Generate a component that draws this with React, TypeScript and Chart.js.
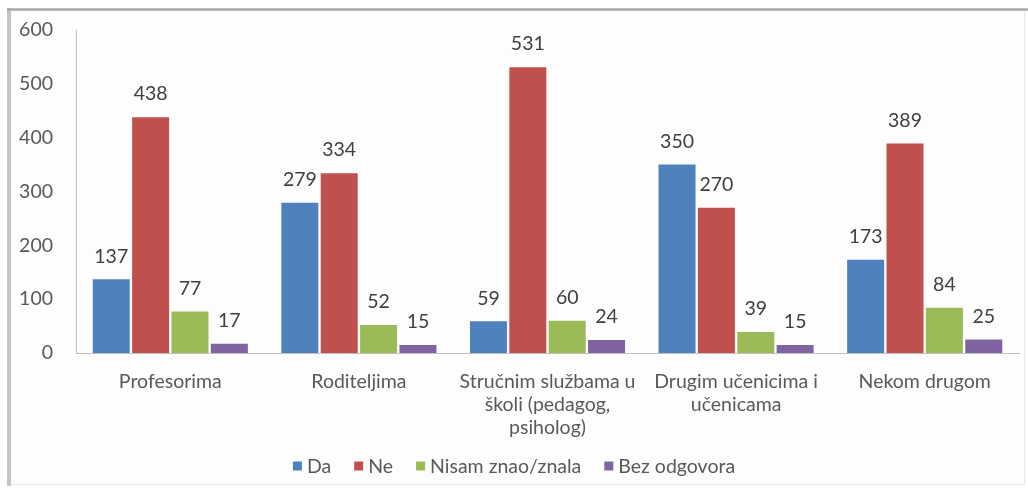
import React, { useEffect, useRef } from "react";
import { Chart, registerables } from "chart.js";

Chart.register(...registerables);

const categories: string[][] = [
  ["Profesorima"],
  ["Roditeljima"],
  ["Stručnim službama u", "školi (pedagog,", "psiholog)"],
  ["Drugim učenicima i", "učenicama"],
  ["Nekom drugom"],
];
const seriesNames = ["Da", "Ne", "Nisam znao/znala", "Bez odgovora"];
const daValues = [137, 279, 59, 350, 173];
const neValues = [438, 334, 531, 270, 389];
const nisamValues = [77, 52, 60, 39, 84];
const bezValues = [17, 15, 24, 15, 25];
const yTickValues = [0, 100, 200, 300, 400, 500, 600];
const seriesColors = ["#4F81BD", "#C0504D", "#9BBB59", "#8064A2"];

const FONT_FAMILY = "Lato, 'Open Sans', sans-serif";
const FONT_SIZE = 19.5;
const TEXT_COLOR = "#595959";

const framePlugin = {
  id: "frame",
  beforeDraw(chart: any) {
    const ctx = chart.ctx;
    ctx.save();
    ctx.fillStyle = "#ffffff";
    ctx.fillRect(0, 0, chart.width, chart.height);
    ctx.fillStyle = "#fdfdfd";
    ctx.fillRect(11, 10, 1013, 474);
    ctx.strokeStyle = "#e6e6e6";
    ctx.lineWidth = 1;
    ctx.beginPath();
    ctx.moveTo(1024.5, 9);
    ctx.lineTo(1024.5, 485);
    ctx.moveTo(9, 484.5);
    ctx.lineTo(1025, 484.5);
    ctx.stroke();
    ctx.strokeStyle = "#c4c4c4";
    ctx.lineWidth = 4;
    ctx.beginPath();
    ctx.moveTo(9, 8);
    ctx.lineTo(9, 486);
    ctx.stroke();
    ctx.strokeStyle = "#a9a9a9";
    ctx.lineWidth = 2.5;
    ctx.beginPath();
    ctx.moveTo(7, 9.5);
    ctx.lineTo(1028, 9.5);
    ctx.stroke();
    ctx.restore();
  },
};

const dataLabelPlugin = {
  id: "dataLabels",
  afterDatasetsDraw(chart: any) {
    const ctx = chart.ctx;
    ctx.save();
    ctx.font = `${FONT_SIZE}px ${FONT_FAMILY}`;
    ctx.fillStyle = "#404040";
    ctx.textAlign = "center";
    ctx.textBaseline = "middle";
    chart.data.datasets.forEach((ds: any, di: number) => {
      const meta = chart.getDatasetMeta(di);
      meta.data.forEach((el: any, i: number) => {
        ctx.fillText(String(ds.data[i]), el.x, el.y - 23);
      });
    });
    ctx.restore();
  },
};

const legendPlugin = {
  id: "customLegend",
  afterDraw(chart: any) {
    const ctx = chart.ctx;
    ctx.save();
    ctx.font = `${FONT_SIZE}px ${FONT_FAMILY}`;
    ctx.textBaseline = "middle";
    ctx.textAlign = "left";
    const box = 9;
    const boxGap = 5;
    const itemGap = 23;
    const widths = seriesNames.map((n) => box + boxGap + ctx.measureText(n).width);
    const total = widths.reduce((a, b) => a + b, 0) + itemGap * (widths.length - 1);
    let x = 514 - total / 2;
    const y = 466;
    seriesNames.forEach((name, i) => {
      ctx.fillStyle = seriesColors[i];
      ctx.fillRect(x, y - box / 2, box, box);
      ctx.fillStyle = TEXT_COLOR;
      ctx.fillText(name, x + box + boxGap, y + 1);
      x += widths[i] + itemGap;
    });
    ctx.restore();
  },
};

export default function App() {
  const canvasRef = useRef<HTMLCanvasElement | null>(null);

  useEffect(() => {
    if (!canvasRef.current) return;
    const seriesValues = [daValues, neValues, nisamValues, bezValues];
    const chart = new Chart(canvasRef.current, {
      type: "bar",
      data: {
        labels: categories,
        datasets: seriesNames.map((name, i) => ({
          label: name,
          data: seriesValues[i],
          backgroundColor: seriesColors[i],
          borderWidth: 0,
          barPercentage: 0.94,
          categoryPercentage: 0.835,
        })),
      },
      options: {
        responsive: false,
        animation: false,
        devicePixelRatio: 1,
        layout: { padding: { top: 30, right: 9, left: 0, bottom: 0 } },
        plugins: {
          legend: { display: false },
          tooltip: { enabled: false },
        },
        scales: {
          x: {
            grid: { display: false, drawTicks: false },
            border: { display: true, color: "#c0c0c0", width: 1 },
            ticks: {
              autoSkip: false,
              maxRotation: 0,
              minRotation: 0,
              padding: 17,
              color: TEXT_COLOR,
              font: { family: FONT_FAMILY, size: FONT_SIZE, lineHeight: 1.18 },
            },
            afterFit: (scale: any) => {
              scale.height = 141;
            },
          },
          y: {
            min: 0,
            max: 600,
            afterBuildTicks: (scale: any) => {
              scale.ticks = yTickValues.map((v) => ({ value: v }));
            },
            grid: { display: false, drawTicks: true, tickLength: 19 },
            border: { display: true, color: "#c0c0c0", width: 1 },
            ticks: {
              padding: 4,
              color: TEXT_COLOR,
              font: { family: FONT_FAMILY, size: FONT_SIZE },
            },
            afterFit: (scale: any) => {
              scale.width = 76;
            },
          },
        },
      },
      plugins: [framePlugin, dataLabelPlugin, legendPlugin],
    });
    return () => chart.destroy();
  }, []);

  return (
    <div style={{ position: "absolute", left: 0, top: 0, width: 1028, height: 494 }}>
      <canvas ref={canvasRef} width={1028} height={494} style={{ display: "block", width: 1028, height: 494 }} />
    </div>
  );
}
